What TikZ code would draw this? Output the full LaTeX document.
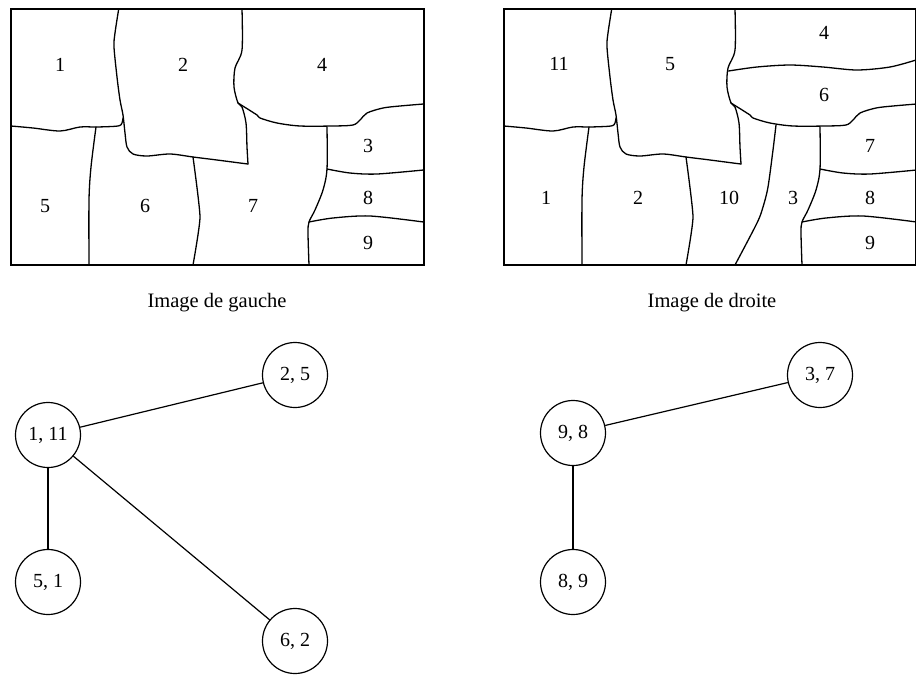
\documentclass[tikz,border=0pt]{standalone}
\usepackage{fontspec}
\setmainfont{Liberation Serif}
\newcommand\regioncurves{%
  \draw[seg] plot[smooth,tension=0.5] coordinates {(118.7,9) (115,33) (114,47) (117,77) (120,100) (123,115) (125,133) (127,147) (133,154) (147,156) (170,154) (193,157) (217,160) (240,163) (248,164)};
  \draw[seg] plot[smooth,tension=0.5] coordinates {(248,164) (247,147) (246,123) (242,107) (238,103) (234,87) (235,68) (242,50) (242,9)};
  \draw[seg] plot[smooth,tension=0.5] coordinates {(11,126) (33,128) (60,131) (80,127) (97,127) (118,126) (122,123) (123,118)};
  \draw[seg] plot[smooth,tension=0.5] coordinates {(96,127) (91,167) (89,200) (89,265)};
  \draw[seg] plot[smooth,tension=0.3] coordinates {(193,157) (200,217) (193,265)};
  \draw[seg] plot[smooth,tension=0.5] coordinates {(238,103) (257,115) (260,118) (277,123) (300,126) (333,126) (353,125) (360,120) (367,113) (383,108) (400,106) (423.5,104)};
  \draw[seg] plot[smooth,tension=0.5] coordinates {(327,127) (327,169) (323,190) (315,210) (309,222) (308,233) (309,265)};
  \draw[seg] plot[smooth,tension=0.5] coordinates {(327,169) (350,173) (377,174) (423.5,170)};
  \draw[seg] plot[smooth,tension=0.5] coordinates {(309,222) (333,218) (370,216) (423.5,222)};
}
\begin{document}
\begin{tikzpicture}[x=1pt,y=-1pt,
  seg/.style={line width=1.3pt, line join=round, line cap=round},
  frame/.style={line width=1.2pt},
  lab/.style={font=\fontsize{20}{24}\selectfont, inner sep=0pt},
  captext/.style={font=\fontsize{20.5}{24}\selectfont, inner sep=0pt},
  vtx/.style={circle, draw, line width=1.2pt, minimum size=65pt, inner sep=0pt, font=\fontsize{20}{24}\selectfont},
  link/.style={line width=1.2pt}]
\useasboundingbox (0,0) rectangle (916,675);

% ---------- left image ----------
\draw[frame] (11,9) rectangle (424,265);
\regioncurves
\node[lab] (g1) at (60,65) {1};
\node[lab] (g2) at (183,65) {2};
\node[lab] (g4) at (322,65) {4};
\node[lab] (g3) at (368,146) {3};
\node[lab] (g5) at (45,206) {5};
\node[lab] (g6) at (145,206) {6};
\node[lab] (g7) at (253,206) {7};
\node[lab] (g8) at (368,198) {8};
\node[lab] (g9) at (368,243) {9};

% ---------- right image ----------
\begin{scope}[xshift=493pt]
  \draw[frame] (11,9) rectangle (423,265);
  \regioncurves
  \draw[seg] plot[smooth,tension=0.5] coordinates {(235.5,71) (264,67) (297,65) (330,67) (364,70) (397,67) (423,60)};
  \draw[seg] plot[smooth,tension=0.5] coordinates {(283,125) (280,150) (275,187) (270,207) (264,223) (242,265)};
\end{scope}
\node[lab] (d4) at (824,33) {4};
\node[lab] (d11) at (559,64) {11};
\node[lab] (d5) at (670,64) {5};
\node[lab] (d6) at (824,95) {6};
\node[lab] (d7) at (870,146) {7};
\node[lab] (d1) at (546,198) {1};
\node[lab] (d2) at (638,198) {2};
\node[lab] (d10) at (729,198) {10};
\node[lab] (d3) at (793,198) {3};
\node[lab] (d8) at (870,198) {8};
\node[lab] (d9) at (870,243) {9};

% ---------- captions ----------
\node[captext] (cg) at (217,303) {Image de gauche};
\node[captext] (cd) at (712,303) {Image de droite};

% ---------- graphs ----------
\node[vtx] (a) at (48,435) {1, 11};
\node[vtx] (b) at (295,375) {2, 5};
\node[vtx] (c) at (48,582) {5, 1};
\node[vtx] (e) at (295,641) {6, 2};
\node[vtx] (p) at (573,433) {9, 8};
\node[vtx] (q) at (820,375) {3, 7};
\node[vtx] (r) at (573,582) {8, 9};
\draw[link] (a) -- (b);
\draw[link] (a) -- (c);
\draw[link] (a) -- (e);
\draw[link] (p) -- (q);
\draw[link] (p) -- (r);
\end{tikzpicture}
\end{document}
